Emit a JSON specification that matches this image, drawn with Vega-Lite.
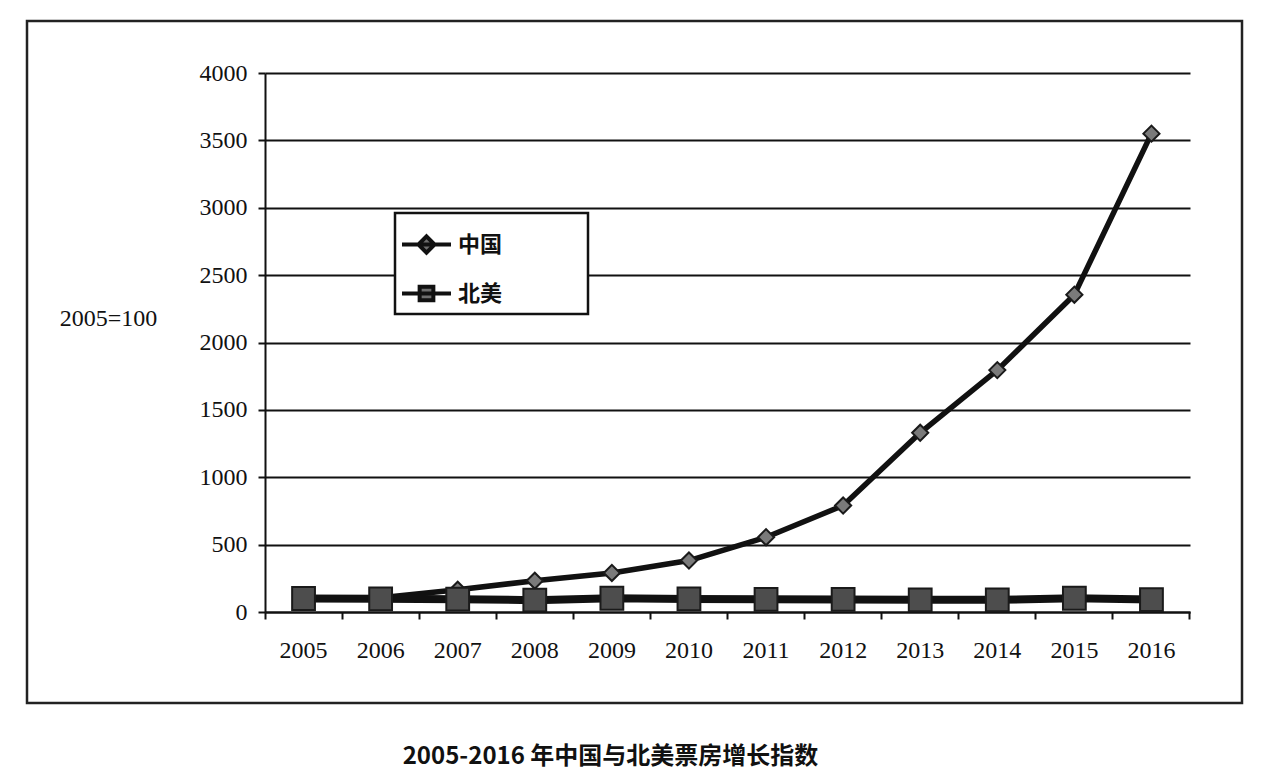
{
  "$schema": "https://vega.github.io/schema/vega-lite/v6.json",
  "width": 1215,
  "height": 682,
  "autosize": {"type": "none"},
  "padding": {"left": 27, "top": 21, "right": 24, "bottom": 75},
  "background": "white",
  "title": {
    "text": "2005-2016 年中国与北美票房增长指数",
    "orient": "bottom",
    "anchor": "middle",
    "frame": "group",
    "font": "Noto Sans CJK SC",
    "fontSize": 24,
    "fontWeight": "bold",
    "color": "#111",
    "offset": 42,
    "dx": -24
  },
  "data": {
    "values": [
      {"year": "2005", "series": "中国", "index": 100},
      {"year": "2006", "series": "中国", "index": 105},
      {"year": "2007", "series": "中国", "index": 165},
      {"year": "2008", "series": "中国", "index": 232},
      {"year": "2009", "series": "中国", "index": 290},
      {"year": "2010", "series": "中国", "index": 382},
      {"year": "2011", "series": "中国", "index": 555},
      {"year": "2012", "series": "中国", "index": 790},
      {"year": "2013", "series": "中国", "index": 1330},
      {"year": "2014", "series": "中国", "index": 1795},
      {"year": "2015", "series": "中国", "index": 2355},
      {"year": "2016", "series": "中国", "index": 3550},
      {"year": "2005", "series": "北美", "index": 100},
      {"year": "2006", "series": "北美", "index": 98},
      {"year": "2007", "series": "北美", "index": 95},
      {"year": "2008", "series": "北美", "index": 88},
      {"year": "2009", "series": "北美", "index": 102},
      {"year": "2010", "series": "北美", "index": 97},
      {"year": "2011", "series": "北美", "index": 94},
      {"year": "2012", "series": "北美", "index": 93},
      {"year": "2013", "series": "北美", "index": 90},
      {"year": "2014", "series": "北美", "index": 90},
      {"year": "2015", "series": "北美", "index": 102},
      {"year": "2016", "series": "北美", "index": 92}
    ]
  },
  "encoding": {
    "x": {
      "field": "year",
      "type": "ordinal",
      "bandPosition": 0.5,
      "scale": {"type": "band", "range": [238, 1163], "paddingInner": 0, "paddingOuter": 0},
      "axis": {
        "title": null,
        "orient": "bottom",
        "offset": -91,
        "bandPosition": 1,
        "tickExtra": true,
        "tickSize": 7,
        "tickWidth": 2,
        "tickColor": "#111",
        "domainColor": "#111",
        "domainWidth": 2,
        "labelFont": "Liberation Serif",
        "labelFontSize": 24,
        "labelColor": "#111",
        "labelPadding": 19,
        "labelAngle": 0,
        "grid": false
      }
    },
    "y": {
      "field": "index",
      "type": "quantitative",
      "scale": {"domain": [0, 4000], "range": [591, 52], "nice": false, "zero": true},
      "axis": {
        "title": "2005=100",
        "orient": "left",
        "offset": -238,
        "values": [0, 500, 1000, 1500, 2000, 2500, 3000, 3500, 4000],
        "format": "d",
        "tickSize": 7,
        "tickWidth": 2,
        "tickColor": "#111",
        "domainColor": "#111",
        "domainWidth": 2,
        "grid": true,
        "gridColor": "#111",
        "gridWidth": 2,
        "labelFont": "Liberation Serif",
        "labelFontSize": 24,
        "labelColor": "#111",
        "labelPadding": 11,
        "labelFlush": false,
        "titleAngle": 0,
        "titleX": -157,
        "titleY": 297,
        "titleAlign": "center",
        "titleBaseline": "middle",
        "titleFont": "Liberation Serif",
        "titleFontSize": 24,
        "titleFontWeight": "normal",
        "titleColor": "#111"
      }
    }
  },
  "layer": [
    {
      "mark": {"type": "line", "color": "#111", "strokeJoin": "round"},
      "encoding": {
        "detail": {"field": "series", "type": "nominal"},
        "strokeWidth": {
          "condition": {"test": "datum.series === '中国'", "value": 5.5},
          "value": 8
        }
      }
    },
    {
      "mark": {"type": "point", "filled": true, "stroke": "#1a1a1a", "strokeWidth": 2, "opacity": 1},
      "encoding": {
        "fill": {
          "condition": {"test": "datum.series === '中国'", "value": "#7a7a7a"},
          "value": "#4d4d4d"
        },
        "shape": {
          "condition": {"test": "datum.series === '中国'", "value": "diamond"},
          "value": "square"
        },
        "size": {
          "condition": {"test": "datum.series === '中国'", "value": 260},
          "value": 520
        }
      }
    },
    {
      "mark": {"type": "point", "filled": true, "fill": "#6e6e6e", "stroke": "#111", "strokeWidth": 4, "size": 0, "opacity": 1},
      "encoding": {
        "shape": {
          "field": "series",
          "type": "nominal",
          "scale": {
            "domain": ["中国", "北美"],
            "range": [
              "M-1,0L1,0M0,-0.33L0.33,0L0,0.33L-0.33,0Z",
              "M-1,0L1,0M-0.28,-0.28L0.28,-0.28L0.28,0.28L-0.28,0.28Z"
            ]
          },
          "legend": {
            "title": null,
            "orient": "none",
            "legendX": 368,
            "legendY": 192,
            "labelExpr": "datum.label + '\u3000\u3000\u3000\u00a0\u00a0\u00a0\u200b'",
            "symbolSize": 2401,
            "symbolStrokeWidth": 4,
            "symbolOpacity": 1,
            "labelFont": "Noto Sans CJK SC",
            "labelFontSize": 22,
            "labelFontWeight": "bold",
            "labelColor": "#111",
            "labelOffset": 5,
            "rowPadding": 6,
            "padding": 5,
            "strokeColor": "#111",
            "fillColor": "white"
          }
        }
      }
    }
  ],
  "config": {
    "view": {"stroke": "#222", "strokeWidth": 2.5},
    "legend": {"strokeWidth": 2.5}
  }
}
